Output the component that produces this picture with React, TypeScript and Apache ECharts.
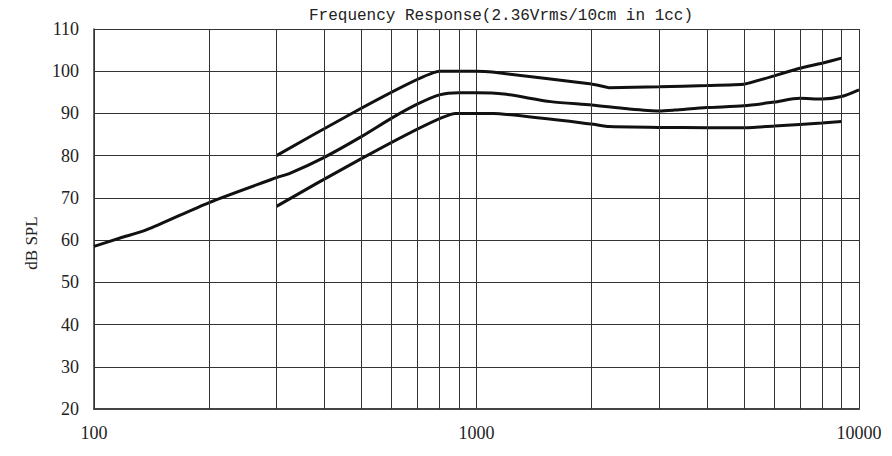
import React, { useEffect, useRef } from "react";
import * as echarts from "echarts";

const titleText = "Frequency Response(2.36Vrms/10cm in 1cc)";
const yAxisName = "dB SPL";

const midFreq = [100, 117, 137, 200, 300, 325, 400, 500, 600, 700, 800, 900, 1000, 1179, 1563, 2000, 2485, 3000, 3290, 4000, 5000, 6000, 7000, 8000, 9000, 10000];
const midVal = [58.5, 60.5, 62.4, 68.9, 74.8, 75.8, 79.6, 84.5, 88.9, 92.2, 94.4, 94.9, 94.9, 94.6, 92.8, 92.0, 91.1, 90.6, 90.8, 91.4, 91.8, 92.7, 93.6, 93.4, 94.0, 95.6];

const topFreq = [300, 800, 1000, 1100, 2000, 2220, 3000, 4000, 5000, 6000, 7000, 8000, 9000];
const topVal = [80, 100, 100, 99.8, 97.0, 96.1, 96.3, 96.6, 96.9, 98.9, 100.7, 101.9, 103.1];

const lowFreq = [300, 880, 1000, 1110, 2000, 2220, 3000, 4000, 5000, 6000, 7000, 8000, 9000];
const lowVal = [68, 90, 90, 90, 87.5, 86.9, 86.7, 86.6, 86.6, 87.0, 87.4, 87.75, 88.1];

const minorGridFreq = [200, 300, 400, 500, 600, 700, 800, 900, 2000, 3000, 4000, 5000, 6000, 7000, 8000, 9000];

const yMin = 20;
const yMax = 110;
const yStep = 10;
const xMin = 100;
const xMax = 10000;

const MONO = '"Liberation Mono", "DejaVu Sans Mono", monospace';
const SERIF = '"Liberation Serif", "DejaVu Serif", serif';

function pairs(xs: number[], ys: number[]) {
  return xs.map((x, i) => [x, ys[i]]);
}

export default function App() {
  const ref = useRef<HTMLDivElement>(null);
  useEffect(() => {
    if (!ref.current) return;
    const chart = echarts.init(ref.current, null, { renderer: "svg" });
    const lineStyle = { color: "#111", width: 3 };
    chart.setOption({
      animation: false,
      backgroundColor: "#fff",
      title: {
        text: titleText,
        left: 304,
        top: 3,
        textStyle: { fontFamily: MONO, fontSize: 16, fontWeight: "normal", color: "#222" },
      },
      graphic: [
        {
          type: "text",
          x: 31,
          y: 243,
          rotation: Math.PI / 2,
          style: {
            text: yAxisName,
            fontFamily: SERIF,
            fontSize: 17,
            fill: "#222",
            align: "center",
            verticalAlign: "middle",
          },
        },
      ],
      grid: { left: 94, right: 33, top: 29, bottom: 47, containLabel: false },
      xAxis: {
        type: "log",
        logBase: 10,
        min: xMin,
        max: xMax,
        axisLine: { show: true, lineStyle: { color: "#444", width: 2 } },
        axisTick: { show: false },
        axisLabel: {
          margin: 15,
          color: "#222",
          fontFamily: SERIF,
          fontSize: 18,
          formatter: (v: number) => String(Math.round(v)),
        },
        splitLine: { show: true, lineStyle: { color: "#333", width: 1 } },
      },
      yAxis: {
        type: "value",
        min: yMin,
        max: yMax,
        interval: yStep,
        axisLine: { show: true, lineStyle: { color: "#333", width: 1.5 } },
        axisTick: { show: false },
        axisLabel: { margin: 15, color: "#222", fontFamily: SERIF, fontSize: 18 },
        splitLine: { show: true, lineStyle: { color: "#333", width: 1 } },
      },
      series: [
        {
          type: "line",
          data: [],
          z: 1,
          silent: true,
          markLine: {
            silent: true,
            symbol: ["none", "none"],
            label: { show: false },
            lineStyle: { color: "#333", width: 1, type: "solid" },
            emphasis: { disabled: true },
            data: minorGridFreq.map((f) => ({ xAxis: f })),
          },
        },
        {
          type: "line",
          data: pairs(midFreq, midVal),
          symbol: "none",
          smooth: 0.25,
          lineStyle,
          z: 3,
        },
        {
          type: "line",
          data: pairs(topFreq, topVal),
          symbol: "none",
          smooth: 0.1,
          lineStyle,
          z: 3,
        },
        {
          type: "line",
          data: pairs(lowFreq, lowVal),
          symbol: "none",
          smooth: 0.1,
          lineStyle,
          z: 3,
        },
      ],
    });
    return () => chart.dispose();
  }, []);
  return (
    <div
      ref={ref}
      style={{ position: "fixed", left: 0, top: 0, width: 892, height: 456, background: "#fff" }}
    />
  );
}
